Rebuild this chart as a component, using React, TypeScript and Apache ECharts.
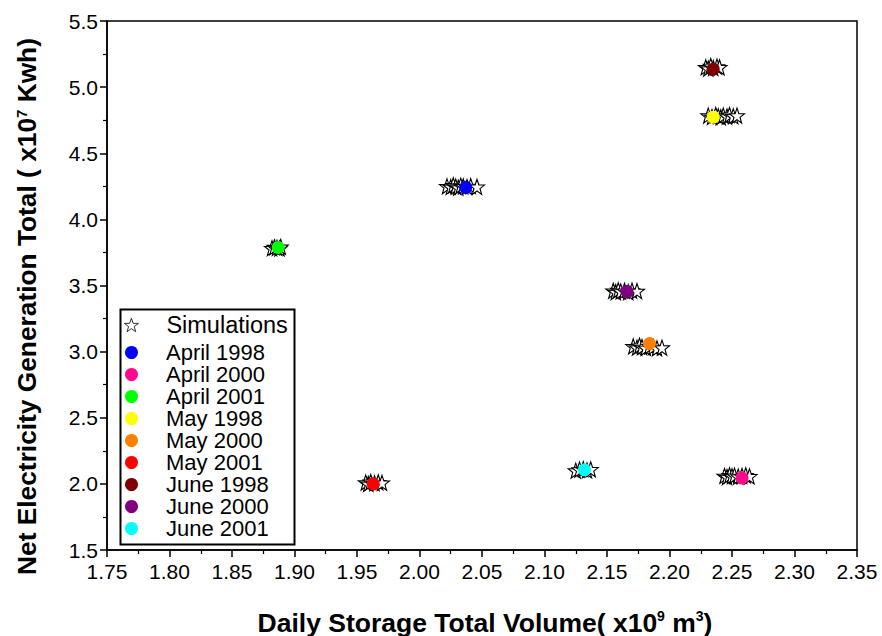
import React, { useEffect, useRef } from "react";
import * as echarts from "echarts";

const xTicks = { min: 1.75, max: 2.35, interval: 0.05 };
const yTicks = { min: 1.5, max: 5.5, interval: 0.5 };

const observedNames = [
  "April 1998", "April 2000", "April 2001",
  "May 1998", "May 2000", "May 2001",
  "June 1998", "June 2000", "June 2001",
];
const observedColors = [
  "#0000FF", "#FF0A8C", "#00FF00",
  "#FFFF00", "#FF8000", "#FF0000",
  "#800000", "#800080", "#00FFFF",
];
const observedX = [2.037, 2.258, 1.887, 2.235, 2.184, 1.963, 2.235, 2.166, 2.132];
const observedY = [4.242, 2.045, 3.788, 4.773, 3.061, 2.0, 5.136, 3.455, 2.106];

// simulated points read from each cluster of stars
const simApril1998 = [[2.022, 4.25], [2.025, 4.245], [2.027, 4.258], [2.029, 4.248], [2.031, 4.24], [2.033, 4.255], [2.035, 4.25], [2.038, 4.245], [2.041, 4.252], [2.046, 4.246]];
const simApril2000 = [[2.244, 2.06], [2.246, 2.052], [2.248, 2.065], [2.25, 2.058], [2.252, 2.062], [2.255, 2.055], [2.258, 2.06], [2.261, 2.065], [2.264, 2.057]];
const simApril2001 = [[1.882, 3.782], [1.884, 3.79], [1.886, 3.785], [1.888, 3.78], [1.889, 3.792]];
const simMay1998 = [[2.231, 4.785], [2.234, 4.775], [2.237, 4.79], [2.239, 4.78], [2.241, 4.772], [2.243, 4.785], [2.246, 4.778], [2.248, 4.79], [2.251, 4.78], [2.254, 4.785]];
const simMay2000 = [[2.171, 3.04], [2.174, 3.03], [2.176, 3.045], [2.178, 3.035], [2.181, 3.028], [2.184, 3.04], [2.187, 3.035], [2.19, 3.025], [2.194, 3.03]];
const simMay2001 = [[1.957, 2.01], [1.959, 2.0], [1.961, 2.015], [1.964, 2.005], [1.967, 2.012], [1.97, 2.008]];
const simJune1998 = [[2.229, 5.15], [2.231, 5.14], [2.233, 5.16], [2.235, 5.145], [2.238, 5.155], [2.24, 5.15]];
const simJune2000 = [[2.155, 3.46], [2.157, 3.45], [2.159, 3.465], [2.161, 3.455], [2.164, 3.46], [2.167, 3.45], [2.17, 3.462], [2.174, 3.458]];
const simJune2001 = [[2.125, 2.1], [2.128, 2.108], [2.131, 2.112], [2.134, 2.102], [2.137, 2.11]];

const simulations = [
  ...simApril1998, ...simApril2000, ...simApril2001,
  ...simMay1998, ...simMay2000, ...simMay2001,
  ...simJune1998, ...simJune2000, ...simJune2001,
];

const STAR =
  "path://M0,-10 L2.35,-3.24 L9.51,-3.09 L3.8,1.24 L5.88,8.09 L0,4 L-5.88,8.09 L-3.8,1.24 L-9.51,-3.09 L-2.35,-3.24 Z";

const FONT = "'Liberation Sans', Arial, sans-serif";

export default function App() {
  const ref = useRef<HTMLDivElement>(null);
  useEffect(() => {
    if (!ref.current) return;
    const chart = echarts.init(ref.current, null, { renderer: "svg" });
    const series: any[] = [
      {
        name: "Simulations",
        type: "scatter",
        symbol: STAR,
        symbolSize: 15,
        itemStyle: { color: "#ffffff", borderColor: "#000000", borderWidth: 1.1, opacity: 1 },
        data: simulations,
        z: 2,
      },
      ...observedNames.map((n, i) => ({
        name: n,
        type: "scatter",
        symbol: "circle",
        symbolSize: 13,
        itemStyle: { color: observedColors[i], opacity: 1 },
        data: [[observedX[i], observedY[i]]],
        z: 3,
      })),
    ];
    chart.setOption({
      animation: false,
      backgroundColor: "#ffffff",
      grid: {
        left: 107,
        right: 25,
        top: 21,
        bottom: 86,
        show: true,
        borderColor: "#000",
        borderWidth: 1.5,
        containLabel: false,
        outerBoundsMode: "none",
      },
      xAxis: {
        type: "value",
        min: xTicks.min,
        max: xTicks.max,
        interval: xTicks.interval,
        splitLine: { show: false },
        axisLine: { show: true, onZero: false, lineStyle: { color: "#000", width: 1.5 } },
        axisTick: { show: true, inside: false, length: 7, lineStyle: { color: "#000", width: 1.5 } },
        minorTick: { show: true, splitNumber: 2, length: 4, lineStyle: { color: "#000", width: 1.2 } },
        axisLabel: {
          color: "#000",
          fontFamily: FONT,
          fontSize: 21,
          margin: 11,
          formatter: (v: number) => v.toFixed(2),
        },
        name: "{t|Daily Storage Total Volume( x10}{s|9}{t| m}{s|3}{t|)}",
        nameLocation: "middle",
        nameGap: 59,
        nameTextStyle: {
          padding: [0, 0, 0, 6],
          rich: {
            t: { fontFamily: FONT, fontSize: 26.5, fontWeight: "bold", color: "#000" },
            s: { fontFamily: FONT, fontSize: 14, fontWeight: "bold", color: "#000", verticalAlign: "top", lineHeight: 14 },
          },
        },
      },
      yAxis: {
        type: "value",
        min: yTicks.min,
        max: yTicks.max,
        interval: yTicks.interval,
        splitLine: { show: false },
        axisLine: { show: true, onZero: false, lineStyle: { color: "#000", width: 1.5 } },
        axisTick: { show: true, inside: false, length: 7, lineStyle: { color: "#000", width: 1.5 } },
        minorTick: { show: true, splitNumber: 2, length: 4, lineStyle: { color: "#000", width: 1.2 } },
        axisLabel: {
          color: "#000",
          fontFamily: FONT,
          fontSize: 21,
          margin: 9,
          formatter: (v: number) => v.toFixed(1),
        },
        name: "{t|Net Electricity Generation Total ( x10}{s|7}{t| Kwh)}",
        nameLocation: "middle",
        nameGap: 67,
        nameTextStyle: {
          padding: [0, 42, 0, 0],
          rich: {
            t: { fontFamily: FONT, fontSize: 26.3, fontWeight: "bold", color: "#000" },
            s: { fontFamily: FONT, fontSize: 15, fontWeight: "bold", color: "#000", verticalAlign: "top", lineHeight: 14 },
          },
        },
      },
      legend: [
        {
          data: ["Simulations"],
          orient: "vertical",
          left: 124,
          top: 313,
          itemWidth: 14,
          itemHeight: 14,
          padding: 0,
          itemStyle: { borderWidth: 0.8 },
          textStyle: { fontFamily: FONT, fontSize: 23.5, color: "#000", padding: [0, 0, 0, 23] },
        },
        {
          data: observedNames.map((n) => ({ name: n, icon: "circle" })),
          orient: "vertical",
          left: 125,
          top: 341.5,
          itemWidth: 13,
          itemHeight: 13,
          itemGap: 0,
          padding: 0,
          textStyle: { fontFamily: FONT, fontSize: 22, lineHeight: 22, color: "#000", padding: [0, 0, 0, 23] },
        },
      ],
      graphic: [
        {
          type: "rect",
          left: 118,
          top: 307,
          shape: { width: 174, height: 235 },
          style: { fill: "none", stroke: "#000", lineWidth: 2 },
          z: 10,
        },
      ],
      series,
    });
    return () => chart.dispose();
  }, []);
  return (
    <div
      ref={ref}
      style={{ position: "absolute", left: 0, top: 0, width: 882, height: 636 }}
    />
  );
}
